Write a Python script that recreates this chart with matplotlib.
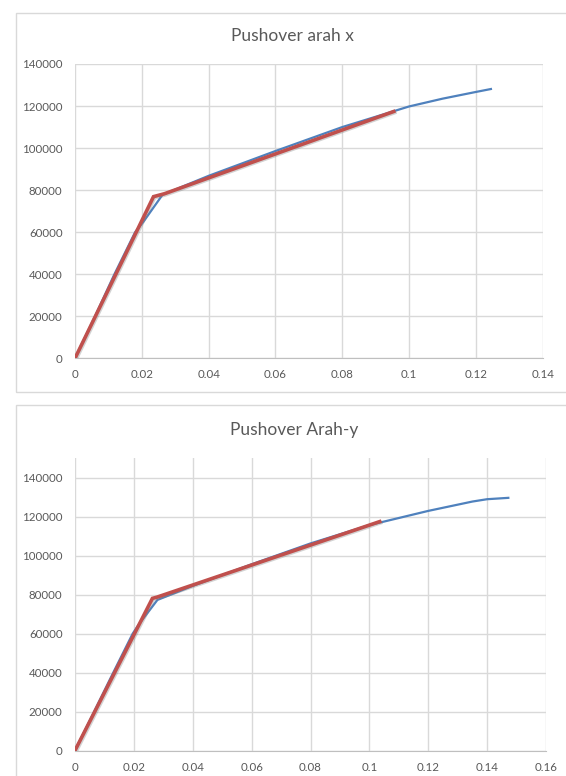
import matplotlib
matplotlib.use("Agg")
import matplotlib.pyplot as plt
import matplotlib.patheffects as pe
from matplotlib.patches import Rectangle

# ---- data: Pushover arah x ----
x_title = "Pushover arah x"
x_curve_d = [0.0, 0.0060, 0.0118, 0.0180, 0.0205, 0.0262, 0.040, 0.060, 0.080, 0.100, 0.110, 0.120, 0.1245]
x_curve_v = [0, 20000, 40000, 60000, 65000, 77800, 86800, 98600, 110000, 119800, 123500, 126700, 128100]
x_bil_d = [0.0, 0.0235, 0.0268, 0.0954]
x_bil_v = [0, 76900, 78300, 117400]
x_xticks = [0, 0.02, 0.04, 0.06, 0.08, 0.1, 0.12, 0.14]
x_xlabels = ["0", "0.02", "0.04", "0.06", "0.08", "0.1", "0.12", "0.14"]
x_yticks = [0, 20000, 40000, 60000, 80000, 100000, 120000, 140000]

# ---- data: Pushover Arah-y ----
y_title = "Pushover Arah-y"
y_curve_d = [0.0, 0.0065, 0.0130, 0.0196, 0.0218, 0.0280, 0.040, 0.060, 0.080, 0.100, 0.120, 0.135, 0.140, 0.1472]
y_curve_v = [0, 20000, 40000, 60000, 65000, 77300, 84500, 95600, 106300, 115700, 123000, 127800, 129000, 129700]
y_bil_d = [0.0, 0.0263, 0.0278, 0.1035]
y_bil_v = [0, 78100, 78700, 117500]
y_xticks = [0, 0.02, 0.04, 0.06, 0.08, 0.1, 0.12, 0.14, 0.16]
y_xlabels = ["0", "0.02", "0.04", "0.06", "0.08", "0.1", "0.12", "0.14", "0.16"]
y_yticks = [0, 20000, 40000, 60000, 80000, 100000, 120000, 140000]

BLUE = "#4F81BD"
RED = "#C0504D"
GRID = "#D9D9D9"
TXT = "#595959"
FONT = ["Lato", "DejaVu Sans"]

fig = plt.figure(figsize=(5.66, 7.76), dpi=100)
W, H = 566, 776

def fx(px):
    return px / W

def fy(py):
    return 1 - py / H

# chart borders
for (x0, y0, x1, y1) in [(16, 13, 590, 392), (16, 405, 590, 800)]:
    fig.patches.append(Rectangle((fx(x0), fy(y1)), fx(x1) - fx(x0), fy(y0) - fy(y1),
                                 transform=fig.transFigure, fill=False,
                                 edgecolor=GRID, linewidth=1.0))

def make(ax, title, tx, ty, cd, cv, bd, bv, xt, xl, yt, xmax, ymax):
    ax.set_xlim(0, xmax)
    ax.set_ylim(0, ymax)
    ax.set_xticks(xt)
    ax.set_xticklabels(xl)
    ax.set_yticks(yt)
    ax.set_yticklabels([str(v) for v in yt])
    ax.grid(True, color=GRID, linewidth=1.0)
    ax.set_axisbelow(True)
    for s in ["top", "right", "left"]:
        ax.spines[s].set_visible(False)
    ax.spines["bottom"].set_color("#BFBFBF")
    ax.tick_params(length=0, colors=TXT, labelsize=8.3)
    ax.tick_params(axis="y", pad=9)
    ax.tick_params(axis="x", pad=8)
    for lab in ax.get_xticklabels() + ax.get_yticklabels():
        lab.set_family(FONT)
    ax.plot(cd, cv, color=BLUE, linewidth=1.6, solid_joinstyle="round", zorder=3)
    ax.plot(bd, bv, color=RED, linewidth=2.6, solid_joinstyle="miter", zorder=4,
            path_effects=[pe.SimpleLineShadow(offset=(0.8, -0.8), shadow_color="gray", alpha=0.35),
                          pe.Normal()])
    fig.text(fx(tx), fy(ty), title, ha="center", va="center", fontsize=12.5,
             color=TXT, family=FONT)

ax1 = fig.add_axes([fx(75), fy(358.3), fx(542.7) - fx(75), fy(64) - fy(358.3)])
make(ax1, x_title, 292, 36, x_curve_d, x_curve_v, x_bil_d, x_bil_v,
     x_xticks, x_xlabels, x_yticks, 0.14, 140000)

ax2 = fig.add_axes([fx(75), fy(750.5), fx(546) - fx(75), fy(458.3) - fy(750.5)])
make(ax2, y_title, 294, 430, y_curve_d, y_curve_v, y_bil_d, y_bil_v,
     y_xticks, y_xlabels, y_yticks, 0.16, 150000)

fig.savefig("out.png", dpi=100, facecolor="white")
